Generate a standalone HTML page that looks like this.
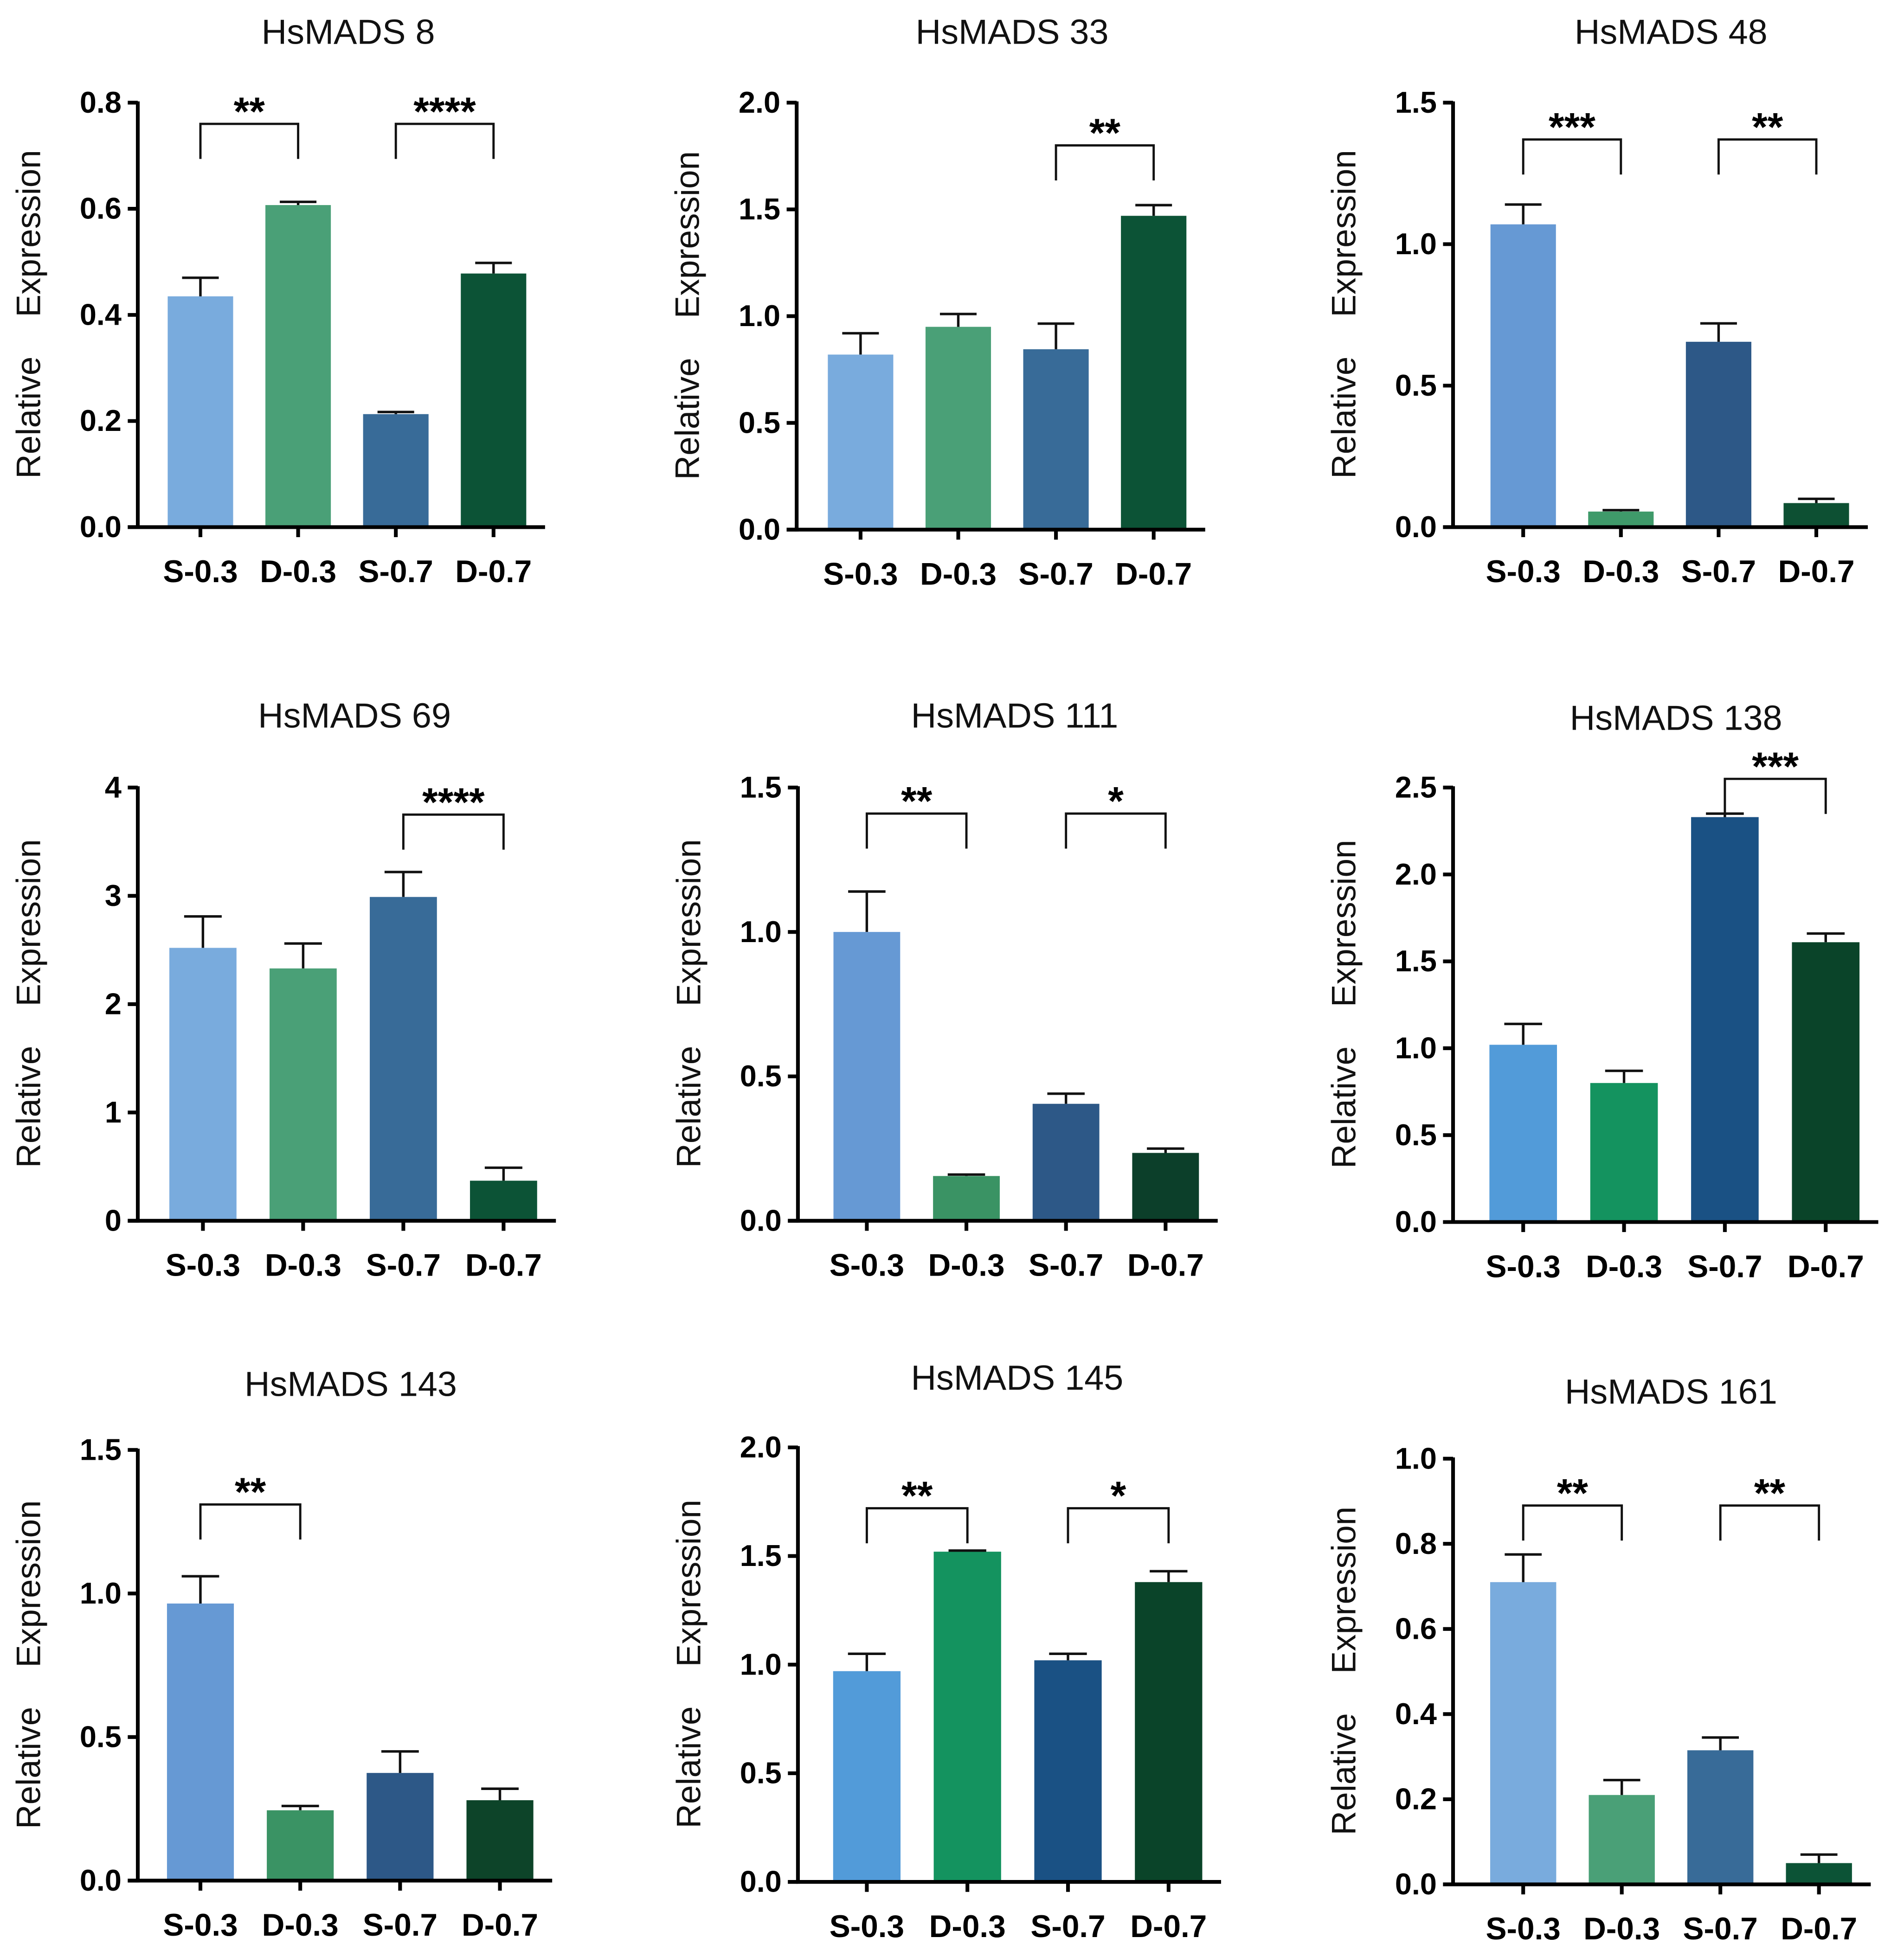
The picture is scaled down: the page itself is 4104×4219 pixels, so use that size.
<!DOCTYPE html>
<html><head><meta charset="utf-8"><style>
html,body{margin:0;padding:0;background:#fff}
svg{display:block}
text{font-family:"Liberation Sans",Arial,sans-serif}
</style></head><body>
<svg id="fig" xmlns="http://www.w3.org/2000/svg" width="4104" height="4219" viewBox="0 0 1520 1563" preserveAspectRatio="none"></svg>
<script>
const categories = ["S-0.3","D-0.3","S-0.7","D-0.7"];
const titles = ["HsMADS 8","HsMADS 33","HsMADS 48","HsMADS 69","HsMADS 111","HsMADS 138","HsMADS 143","HsMADS 145","HsMADS 161"];
const values = [
 [0.435,0.607,0.213,0.478],
 [0.82,0.95,0.845,1.47],
 [1.07,0.055,0.655,0.085],
 [2.52,2.33,2.99,0.37],
 [1.0,0.155,0.405,0.235],
 [1.02,0.8,2.33,1.61],
 [0.965,0.245,0.375,0.28],
 [0.97,1.52,1.02,1.38],
 [0.71,0.21,0.315,0.05]
];
const errors = [
 [0.035,0.006,0.004,0.02],
 [0.1,0.06,0.12,0.05],
 [0.07,0.005,0.065,0.015],
 [0.29,0.23,0.23,0.12],
 [0.14,0.005,0.035,0.015],
 [0.12,0.07,0.02,0.05],
 [0.095,0.015,0.075,0.04],
 [0.08,0.005,0.03,0.05],
 [0.065,0.035,0.03,0.02]
];
const yMax = [0.8,2.0,1.5,4,1.5,2.5,1.5,2.0,1.0];
const yStep = [0.2,0.5,0.5,1,0.5,0.5,0.5,0.5,0.2];
const tickDecimals = [1,1,1,0,1,1,1,1,1];
const sigs = [
 [[0,1,0.76,"**"],[2,3,0.76,"****"]],
 [[2,3,1.8,"**"]],
 [[0,1,1.37,"***"],[2,3,1.37,"**"]],
 [[2,3,3.75,"****"]],
 [[0,1,1.41,"**"],[2,3,1.41,"*"]],
 [[2,3,2.55,"***"]],
 [[0,1,1.31,"**"]],
 [[0,1,1.72,"**"],[2,3,1.72,"*"]],
 [[0,1,0.89,"**"],[2,3,0.89,"**"]]
];
const colorSets = [
 ["#79abdd","#4aa077","#386b98","#0c5336"],
 ["#79abdd","#4aa077","#386b98","#0c5336"],
 ["#6699d4","#3f9a6a","#2d5887","#0d5033"],
 ["#79abdd","#4aa077","#386b98","#0c5336"],
 ["#6699d4","#3a9364","#2d5887","#0c3f2a"],
 ["#529bd9","#14935f","#1a5184","#0a4429"],
 ["#6699d4","#3a9364","#2d5887","#0d4429"],
 ["#529bd9","#14935f","#1a5184","#0a4429"],
 ["#79abdd","#4aa077","#386b98","#0c5336"]
];
const layout = [
 [110,82,421,160,78,278,25],
 [636,82,423,687,78,808,25],
 [1160,82,421,1216,78,1334,25],
 [110,629,975,162,80,283,571],
 [637,629,975,692,79.5,810,571],
 [1160,629,976,1216,80.5,1338,573],
 [110,1158,1502,160,79.7,280,1105],
 [637,1156,1503,692,80.3,812,1100],
 [1160,1165,1505,1216,78.7,1334,1111]
];
const NS="http://www.w3.org/2000/svg";
const svg=document.getElementById('fig');
function mk(tag,attrs,parent){const e=document.createElementNS(NS,tag);for(const k in attrs)e.setAttribute(k,attrs[k]);(parent||svg).appendChild(e);return e;}
titles.forEach((t,p)=>{
 const [ax,top,zero,c0,sp,tx,ty]=layout[p];
 const g=mk('g',{});
 
 
 const y=v=>zero-(v/yMax[p])*(zero-top);
 const x=i=>c0+i*sp;
 const bw=sp*0.67;
 const title=mk('text',{x:tx,y:ty+10,'text-anchor':'middle','font-size':28,fill:'#111'},g);title.textContent=t;
 
 
 const midY=(top+zero)/2;
 const lx=ax-78;
 const l1=mk('text',{x:0,y:0,transform:`translate(${lx},${midY+82}) rotate(-90)`,'text-anchor':'middle','font-size':27,fill:'#111'},g);l1.textContent='Relative';
 
 
 const l2=mk('text',{x:0,y:0,transform:`translate(${lx},${midY-65}) rotate(-90)`,'text-anchor':'middle','font-size':27,fill:'#111'},g);l2.textContent='Expression';
 
 
 values[p].forEach((v,i)=>{
  const r=mk('rect',{x:x(i)-bw/2,y:y(v),width:bw,height:zero-y(v),fill:colorSets[p][i]},g);
  
  
  const e=errors[p][i];
  const eb=mk('path',{d:`M${x(i)} ${y(v)}V${y(v+e)}M${x(i)-bw*0.28} ${y(v+e)}H${x(i)+bw*0.28}`,stroke:'#111','stroke-width':2,fill:'none'},g);
  
  
 });
 const n=Math.round(yMax[p]/yStep[p]);
 for(let k=0;k<=n;k++){
  const v=k*yStep[p];
  mk('line',{x1:ax-8,x2:ax,y1:y(v),y2:y(v),stroke:'#000','stroke-width':3},g);
  const tl=mk('text',{x:ax-13,y:y(v)+8,'text-anchor':'end','font-size':24,'font-weight':'bold',fill:'#000'},g);
  tl.textContent=v.toFixed(tickDecimals[p]);
  
  
 }
 const ya=mk('line',{x1:ax,x2:ax,y1:top-1,y2:zero+1.5,stroke:'#000','stroke-width':3},g);
 
 
 const xEnd=x(3)+bw/2+15;
 const xa=mk('line',{x1:ax-8,x2:xEnd,y1:zero,y2:zero,stroke:'#000','stroke-width':3},g);
 
 
 categories.forEach((c,i)=>{
  mk('line',{x1:x(i),x2:x(i),y1:zero,y2:zero+8,stroke:'#000','stroke-width':3},g);
  const cl=mk('text',{x:x(i),y:zero+44,'text-anchor':'middle','font-size':25,'font-weight':'bold',fill:'#000'},g);
  cl.textContent=c;
  
  
 });
 sigs[p].forEach(s=>{
  const [a,b,v,lab]=s;const by=y(v);
  const br=mk('path',{d:`M${x(a)} ${by+28}V${by}H${x(b)}V${by+28}`,stroke:'#111','stroke-width':1.8,fill:'none'},g);
  
  
  const st=mk('text',{x:(x(a)+x(b))/2,y:by+1,'text-anchor':'middle','font-size':32,'font-weight':'bold',fill:'#000'},g);
  st.textContent=lab;
  
  
 });
});
</script>
</body></html>
